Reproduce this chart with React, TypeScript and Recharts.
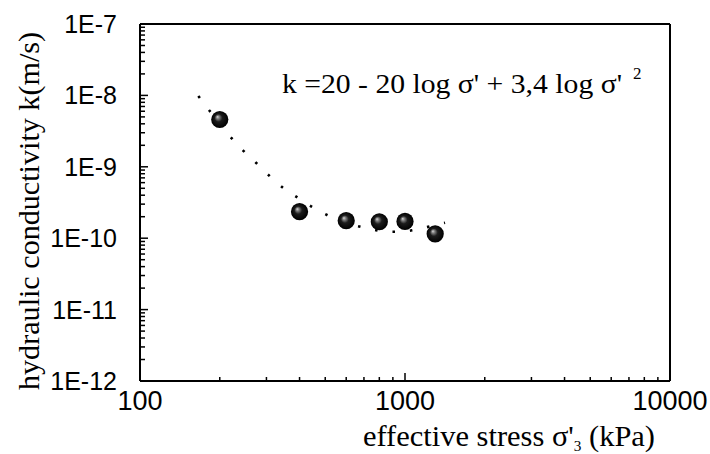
import React from 'react';
import { ComposedChart, XAxis, YAxis, Scatter, Line, ReferenceLine } from 'recharts';

// measured points: effective stress (kPa) vs hydraulic conductivity (m/s)
const stressKPa = [200, 400, 600, 800, 1000, 1300];
const conductivity = [4.6e-9, 2.35e-10, 1.76e-10, 1.7e-10, 1.72e-10, 1.15e-10];

// dotted fitted curve
const fitStress = [166, 183, 219, 244, 274, 310, 351, 398, 451, 514, 662, 752, 853, 966, 1102, 1416];
const fitConductivity = [9.8e-9, 6.1e-9, 2.64e-9, 1.72e-9, 1.14e-9, 7.3e-10, 4.9e-10, 3.6e-10, 2.67e-10, 2.07e-10, 1.48e-10, 1.33e-10, 1.23e-10, 1.23e-10, 1.33e-10, 1.65e-10];

const xMajorTicks = [100, 1000, 10000];
const xTickLabels = ['100', '1000', '10000'];
const xMinorTicks = [200, 300, 400, 500, 600, 700, 800, 900, 2000, 3000, 4000, 5000, 6000, 7000, 8000, 9000];

const yMajorTicks = [1e-12, 1e-11, 1e-10, 1e-9, 1e-8, 1e-7];
const yTickLabels = ['1E-12', '1E-11', '1E-10', '1E-9', '1E-8', '1E-7'];
const yMinorMantissas = [2, 3, 4, 5, 6, 7, 8, 9];
const yMinorDecades = [1e-12, 1e-11, 1e-10, 1e-9, 1e-8];

const yMinorTicks = yMinorDecades.flatMap((d) => yMinorMantissas.map((m) => m * d));

const points = stressKPa.map((s, i) => ({ s, k: conductivity[i] }));
const fit = fitStress.map((s, i) => ({ s, k: fitConductivity[i] }));

const SANS = '"Liberation Sans", Arial, sans-serif';
const SERIF = '"Liberation Serif", "Times New Roman", serif';

const XTick = (props: any) => {
  const { x, y, payload } = props;
  const i = xMajorTicks.indexOf(payload.value);
  const major = i >= 0;
  return (
    <g>
      <line x1={x} y1={y} x2={x} y2={y - (major ? 8 : 4)} stroke="#000" strokeWidth={1.5} />
      {major && (
        <text x={x} y={y + 29} textAnchor="middle" fontSize={27} fontFamily={SANS} fill="#000">
          {xTickLabels[i]}
        </text>
      )}
    </g>
  );
};

const YTick = (props: any) => {
  const { x, y, payload } = props;
  const i = yMajorTicks.indexOf(payload.value);
  const major = i >= 0;
  return (
    <g>
      <line x1={x} y1={y} x2={x + (major ? 8 : 5)} y2={y} stroke="#000" strokeWidth={1.5} />
      {major && (
        <text x={x - 23} y={y + 9} textAnchor="end" fontSize={25} fontFamily={SANS} fill="#000">
          {yTickLabels[i]}
        </text>
      )}
    </g>
  );
};

const Ball = (props: any) => {
  const { cx, cy } = props;
  if (cx == null || cy == null) return null;
  return <circle cx={cx} cy={cy} r={8.6} fill="url(#ballGrad)" />;
};

export default function App() {
  return (
    <div style={{ position: 'absolute', left: 0, top: 0, width: 710, height: 454, background: '#fff' }}>
      <svg width={0} height={0} style={{ position: 'absolute' }}>
        <defs>
          <radialGradient id="ballGrad" cx="50%" cy="50%" r="50%" fx="36%" fy="34%">
            <stop offset="0%" stopColor="#d8d8d8" />
            <stop offset="18%" stopColor="#808080" />
            <stop offset="45%" stopColor="#1c1c1c" />
            <stop offset="100%" stopColor="#000" />
          </radialGradient>
        </defs>
      </svg>
      <ComposedChart width={710} height={454} margin={{ top: 24, right: 40, left: 0, bottom: 0 }}>
        <XAxis
          type="number"
          dataKey="s"
          scale="log"
          domain={[100, 10000]}
          allowDataOverflow
          ticks={[...xMajorTicks, ...xMinorTicks]}
          interval={0}
          tick={<XTick />}
          tickLine={false}
          tickSize={0}
          tickMargin={0}
          height={73}
          axisLine={{ stroke: '#000', strokeWidth: 2 }}
        />
        <YAxis
          type="number"
          dataKey="k"
          scale="log"
          domain={[1e-12, 1e-7]}
          allowDataOverflow
          ticks={[...yMajorTicks, ...yMinorTicks]}
          interval={0}
          tick={<YTick />}
          tickLine={false}
          tickSize={0}
          tickMargin={0}
          width={140}
          axisLine={{ stroke: '#000', strokeWidth: 2 }}
        />
        <ReferenceLine y={1e-7} stroke="#000" strokeWidth={2} />
        <ReferenceLine x={10000} stroke="#000" strokeWidth={2} />
        <Line
          data={fit}
          dataKey="k"
          type="monotone"
          stroke="#000"
          strokeWidth={2.6}
          strokeDasharray="2.5 15"
          dot={false}
          activeDot={false}
          isAnimationActive={false}
        />
        <Scatter data={points} dataKey="k" shape={<Ball />} isAnimationActive={false} />
        <text x={282} y={93} fontSize={28} fontFamily={SERIF} fill="#000" textLength={340} lengthAdjust="spacingAndGlyphs">
          k =20 - 20 log σ' + 3,4 log σ'
        </text>
        <text x={633} y={79} fontSize={17} fontFamily={SERIF} fill="#000">2</text>
        <text x={363} y={446} fontSize={30} fontFamily={SERIF} fill="#000" textLength={292} lengthAdjust="spacingAndGlyphs">
          <tspan>effective stress σ'</tspan>
          <tspan fontSize={15} dy={5}>3</tspan>
          <tspan dy={-5}> (kPa)</tspan>
        </text>
        <text
          x={0}
          y={0}
          transform="translate(39 390) rotate(-90)"
          fontSize={29}
          fontFamily={SERIF}
          fill="#000"
          textLength={358}
          lengthAdjust="spacingAndGlyphs"
        >
          hydraulic conductivity  k(m/s)
        </text>
      </ComposedChart>
    </div>
  );
}
